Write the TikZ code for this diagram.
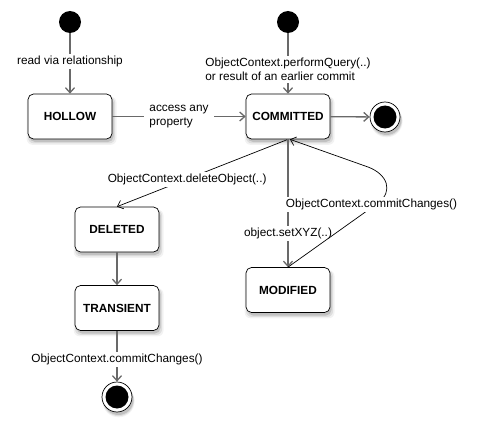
\documentclass[tikz,border=0pt]{standalone}
\usepackage{fontspec}
\setmainfont{Liberation Sans}
\usetikzlibrary{arrows.meta,shadows}
\definecolor{lg}{RGB}{105,105,105}
\begin{document}
\begin{tikzpicture}[x=1pt,y=-1pt,
  font=\fontsize{11.8}{14}\selectfont,
  softshadow/.style={
    drop shadow={shadow xshift=1.5pt, shadow yshift=-4pt, shadow scale=1.07, opacity=0.1},
    drop shadow={shadow xshift=1.5pt, shadow yshift=-3.5pt, shadow scale=1.035, opacity=0.18},
    drop shadow={shadow xshift=1.5pt, shadow yshift=-3pt, opacity=0.3}},
  state/.style={draw=black, line width=0.7pt, fill=white, rounded corners=5.5pt,
    minimum width=84pt, minimum height=45pt, inner sep=0pt,
    font=\fontsize{11.8}{14}\selectfont\bfseries, softshadow},
  initdot/.style={circle, fill=black, minimum size=22pt, inner sep=0pt},
  finaldot/.style={circle, draw=black, line width=0.7pt, fill=white, minimum size=30pt, inner sep=0pt, softshadow},
  conn/.style={draw=lg, line width=1.3pt, -{Straight Barb[length=5pt,width=9pt]}},
  thinconn/.style={draw=black, line width=0.7pt, -{Straight Barb[length=5pt,width=9pt]}},
  lbl/.style={fill=white, inner sep=2pt}]
\useasboundingbox (0,0) rectangle (477,436);

\node[initdot] (i1) at (70,22) {};
\node[initdot] (i2) at (288,22) {};
\node[state] (hol) at (70,116.5) {HOLLOW};
\node[state] (com) at (288,116.5) {COMMITTED};
\node[state] (del) at (117,229.5) {DELETED};
\node[state] (tra) at (117,308) {TRANSIENT};
\node[state] (mod) at (288,290) {MODIFIED};
\node[finaldot] (f1) at (385,117) {};
\fill (f1.center) circle[radius=11.5pt];
\node[finaldot] (f2) at (117,397) {};
\fill (f2.center) circle[radius=11.5pt];

\draw[conn] (i1) -- node[lbl, pos=0.47] {read via relationship} (hol);
\draw[conn] (i2) -- node[lbl, pos=0.6, align=left] {ObjectContext.performQuery(..)\\or result of an earlier commit} (com);
\draw[conn] (hol) -- node[lbl, inner sep=5pt, align=left] {access any\\property} (com);
\draw[conn] (com) -- (f1);
\draw[thinconn] (com.south) -- node[lbl, pos=0.59] {ObjectContext.deleteObject(..)} (del.north);
\draw[conn] (com) -- node[lbl, pos=0.736] {object.setXYZ(..)} (mod);
\coordinate (c1) at (378,203);
\coordinate (c4) at (368,167);
\draw[thinconn] (mod.north) -- (c1) .. controls (394,191) and (387,174) .. (c4) -- ([xshift=2pt]com.south);
\node[lbl] (lc) at (371.5,204) {ObjectContext.commitChanges()};
\draw[conn] (del) -- (tra);
\draw[conn] (tra) -- node[lbl, pos=0.56] {ObjectContext.commitChanges()} (f2);
\end{tikzpicture}
\end{document}
